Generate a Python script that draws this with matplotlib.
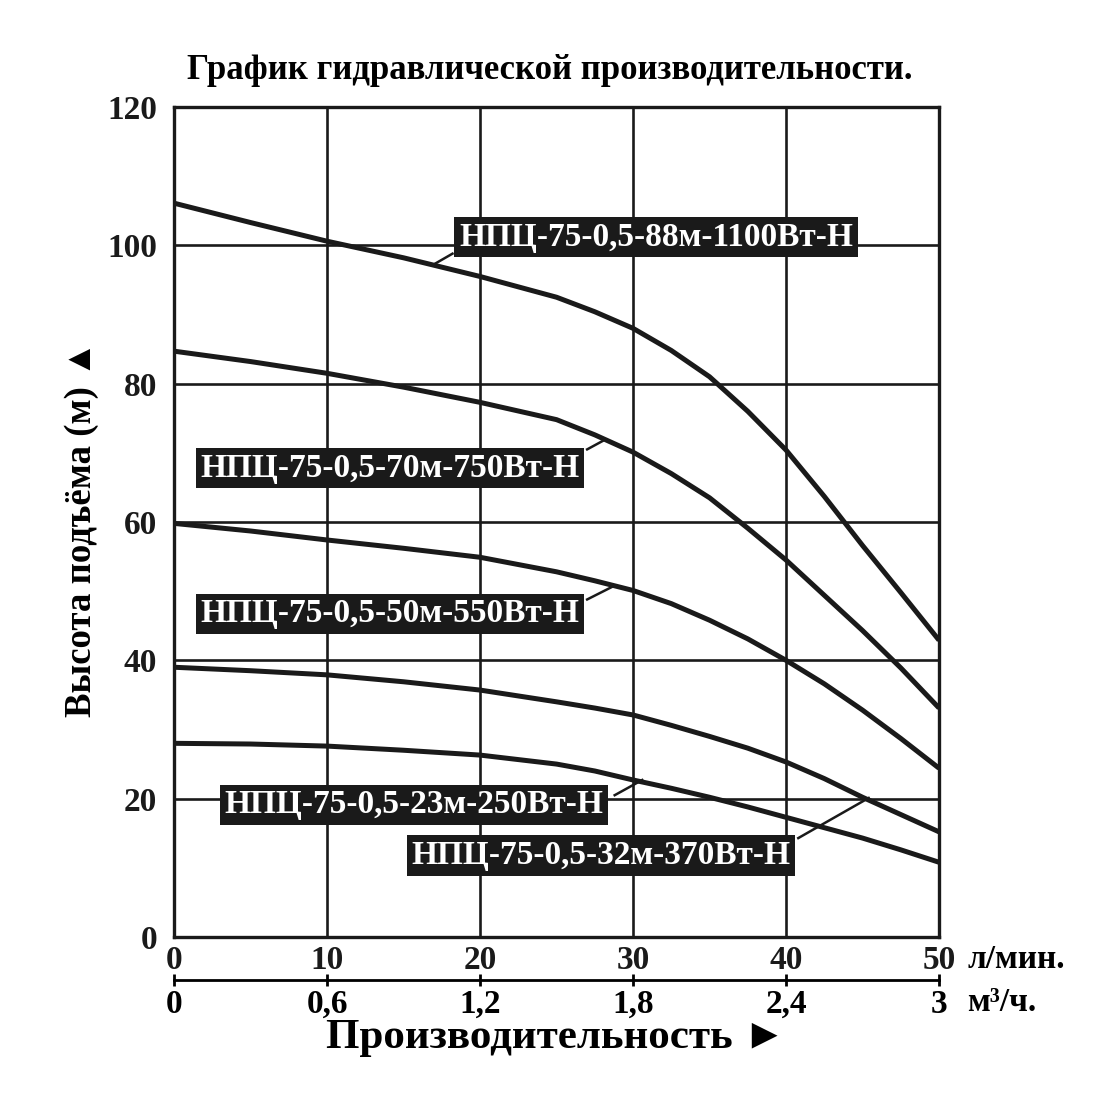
import matplotlib
matplotlib.use("Agg")
from matplotlib import pyplot
import numpy

pyplot.rcParams["font.family"] = ["Liberation Serif", "DejaVu Serif"]
pyplot.rcParams["font.weight"] = "bold"

# расход, л/мин
q = [0, 5, 10, 15, 20, 25, 27.5, 30, 32.5, 35, 37.5, 40, 42.5, 45, 47.5, 50]
# напор, м
h_88 = [106.1, 103.3, 100.6, 98.2, 95.5, 92.5, 90.4, 88.0, 84.8, 81.0, 76.0, 70.4, 63.7, 56.6, 49.8, 42.9]
h_70 = [84.7, 83.2, 81.5, 79.5, 77.3, 74.8, 72.6, 70.1, 67.0, 63.5, 59.1, 54.5, 49.4, 44.3, 38.9, 33.1]
h_50 = [59.8, 58.7, 57.4, 56.2, 54.9, 52.8, 51.5, 50.1, 48.2, 45.8, 43.1, 40.0, 36.6, 32.8, 28.7, 24.4]
h_32 = [39.0, 38.5, 37.9, 36.9, 35.7, 34.0, 33.1, 32.1, 30.6, 29.0, 27.3, 25.3, 22.9, 20.2, 17.7, 15.2]
h_23 = [28.0, 27.9, 27.6, 27.0, 26.3, 25.0, 24.0, 22.7, 21.5, 20.2, 18.8, 17.3, 15.8, 14.3, 12.6, 10.8]

names = ["НПЦ-75-0,5-88м-1100Вт-Н",
         "НПЦ-75-0,5-70м-750Вт-Н",
         "НПЦ-75-0,5-50м-550Вт-Н",
         "НПЦ-75-0,5-32м-370Вт-Н",
         "НПЦ-75-0,5-23м-250Вт-Н"]
curves = [h_88, h_70, h_50, h_32, h_23]

# подписи: центр текста и выноска (от угла рамки к кривой)
label_pos = [(31.5, 101.2), (14.1, 67.8), (14.1, 46.7), (27.9, 11.8), (15.7, 19.1)]
leaders = [((18.2, 98.8), (17.1, 97.4)),
           ((27.0, 70.5), (28.0, 71.7)),
           ((27.0, 48.8), (28.7, 50.7)),
           ((40.8, 14.3), (45.4, 20.1)),
           ((28.8, 20.5), (30.6, 22.7))]

q_ticks = [0, 10, 20, 30, 40, 50]
m3_ticks = ["0", "0,6", "1,2", "1,8", "2,4", "3"]
h_ticks = [0, 20, 40, 60, 80, 100, 120]

fig = pyplot.figure(figsize=(11, 11), dpi=100)
ax = fig.add_axes([0.1582, 0.1482, 0.6955, 0.7545])

for h in curves:
    ax.plot(q, h, "-", color="#1a1a1a", lw=3.6, solid_capstyle="butt",
            solid_joinstyle="round", zorder=3)

for (a, b) in leaders:
    ax.plot([a[0], b[0]], [a[1], b[1]], "-", color="#1a1a1a", lw=1.8, zorder=3)

for name, (x, y) in zip(names, label_pos):
    ax.text(x, y, name, fontsize=24, color="white", ha="center", va="center",
            zorder=4,
            bbox=dict(boxstyle="square,pad=0.14", fc="#1a1a1a", ec="none"))

ax.set_xlim(0, 50)
ax.set_ylim(0, 120)
ax.set_xticks(q_ticks)
ax.set_yticks(h_ticks)
ax.grid(True, color="#1a1a1a", lw=1.9)
ax.set_axisbelow(True)
for s in ax.spines.values():
    s.set_linewidth(2.4)
    s.set_color("#1a1a1a")
    s.set_zorder(5)
ax.tick_params(length=0, labelsize=24, colors="#1a1a1a")
ax.tick_params(axis="y", pad=12)
ax.tick_params(axis="x", pad=6)

sec = ax.secondary_xaxis(-0.052)
sec.set_xticks(q_ticks, m3_ticks)
sec.spines["bottom"].set_linewidth(2.0)
sec.tick_params(direction="inout", length=9, width=2.0, labelsize=24, pad=2)

ax.text(1.037, -0.027, "л/мин.", transform=ax.transAxes, fontsize=24,
        ha="left", va="center")
ax.text(1.037, -0.079, "м³/ч.", transform=ax.transAxes, fontsize=24,
        ha="left", va="center")

fig.text(0.505, 0.056, "Производительность ►", fontsize=31, ha="center", va="center")
fig.text(0.0745, 0.519, "Высота подъёма (м) ▲", fontsize=26.5, ha="center", va="center",
         rotation=90)
fig.text(0.5, 0.936, "График гидравлической производительности.", fontsize=25,
         ha="center", va="center")

fig.savefig("out.png", dpi=100, facecolor="white")
